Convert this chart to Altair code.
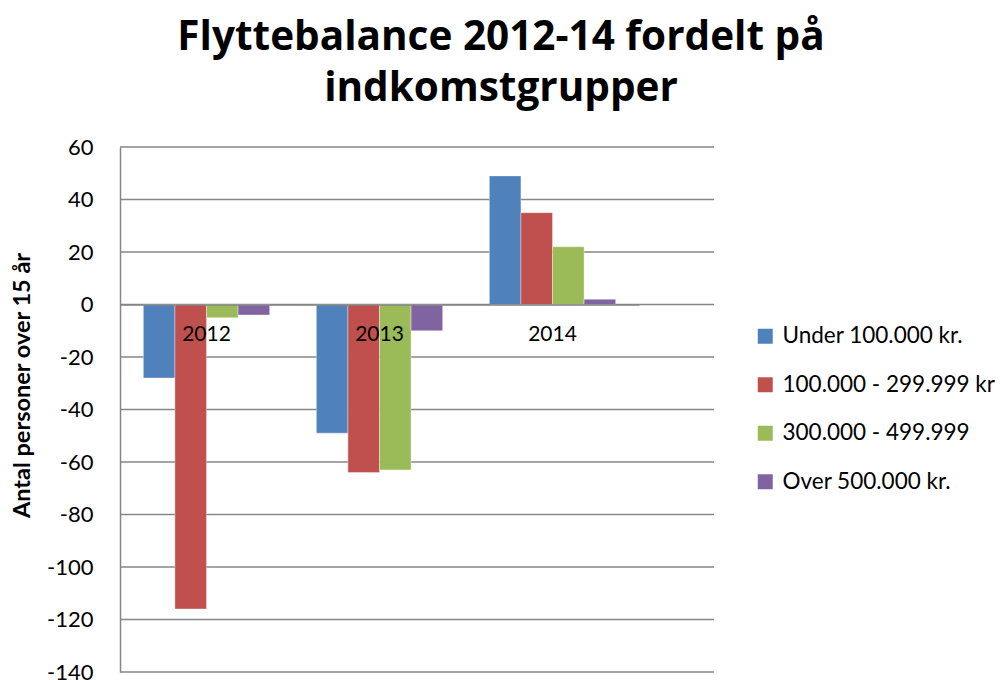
import altair as alt
import pandas as pd

years = ["2012", "2013", "2014"]
series = ["Under 100.000 kr.", "100.000 - 299.999 kr", "300.000 - 499.999", "Over 500.000 kr."]
under_100 = [-28, -49, 49]
s100_299 = [-116, -64, 35]
s300_499 = [-5, -63, 22]
over_500 = [-4, -10, 2]
colors = ["#4F81BD", "#C0504D", "#9BBB59", "#8064A2"]
y_ticks = [-140, -120, -100, -80, -60, -40, -20, 0, 20, 40, 60]

rows = []
for name, vals in zip(series, [under_100, s100_299, s300_499, over_500]):
    for yr, v in zip(years, vals):
        rows.append({"year": yr, "serie": name, "value": v})
df = pd.DataFrame(rows)
grid_df = pd.DataFrame({"value": y_ticks})

FONT = "Lato"
TITLE_FONT = "Open Sans"

y_scale = alt.Scale(domain=[-140, 60], nice=False, zero=False)

grid = alt.Chart(grid_df).mark_rule(color="#868686", strokeWidth=1.5).encode(
    y=alt.Y("value:Q", scale=y_scale),
    x=alt.value(0),
    x2=alt.value(594),
)

bars = alt.Chart(df).mark_bar(
    stroke="white", strokeWidth=0.6, strokeOpacity=0.6
).encode(
    x=alt.X(
        "year:N",
        sort=years,
        scale=alt.Scale(range=[0, 519], paddingInner=0.27, paddingOuter=0.135),
        axis=alt.Axis(
            title=None, orient="bottom", offset=-367.5, labelAngle=0,
            labelFontSize=21, labelFont=FONT, labelColor="black",
            labelPadding=19, ticks=False, domainColor="#868686",
            domainWidth=1.5, zindex=1,
        ),
    ),
    xOffset=alt.XOffset("serie:N", sort=series, scale=alt.Scale(domain=series, paddingInner=0, paddingOuter=0)),
    y=alt.Y(
        "value:Q",
        scale=y_scale,
        axis=alt.Axis(
            title="Antal personer over 15 år", values=y_ticks,
            labelExpr="'' + datum.value",
            titleFont=FONT, titleFontSize=23.5, titleFontWeight="bold", titleColor="black",
            titlePadding=12, titleY=238,
            labelFont=FONT, labelFontSize=22, labelColor="black", labelPadding=27,
            ticks=False, domainColor="#868686", domainWidth=1.5, grid=False,
        ),
    ),
    color=alt.Color(
        "serie:N",
        scale=alt.Scale(domain=series, range=colors),
        legend=alt.Legend(
            title=None, orient="none", legendX=634, legendY=178,
            symbolType="square", symbolSize=225, symbolStrokeWidth=0,
            labelFont=FONT, labelFontSize=22.5, labelColor="black", labelLimit=400,
            rowPadding=25.5, padding=0, labelOffset=6,
        ),
    ),
)

chart = alt.layer(grid, bars).properties(
    width=594,
    height=525,
    title=alt.TitleParams(
        text=["Flyttebalance 2012-14 fordelt på", "indkomstgrupper"],
        font=TITLE_FONT, fontSize=40.5, fontWeight="bold", color="black",
        anchor="middle", dx=84, offset=27, lineHeight=51,
    ),
    autosize=alt.AutoSizeParams(type="none"),
    padding={"left": 112, "top": 139, "right": 281, "bottom": 8},
).configure(background="white").configure_view(stroke=None, strokeWidth=0)

chart.save("out.html", embed_options={"renderer": "svg", "actions": False})
